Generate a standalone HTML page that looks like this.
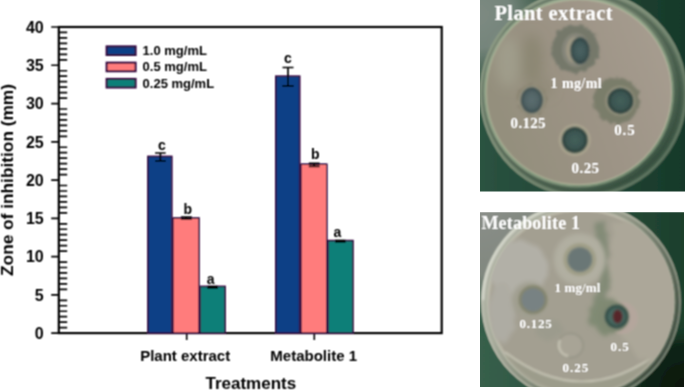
<!DOCTYPE html>
<html><head><meta charset="utf-8"><style>
html,body{margin:0;padding:0;background:#fff;width:685px;height:391px;overflow:hidden}
svg{position:absolute;left:0;top:0;display:block}
.t15{font:bold 15px "Liberation Sans",sans-serif;fill:#000}
.t16{font:bold 16px "Liberation Sans",sans-serif;fill:#000}
.t17{font:bold 17px "Liberation Sans",sans-serif;fill:#000}
.t13{font:bold 13px "Liberation Sans",sans-serif;fill:#000}
.w{font-family:"Liberation Serif",serif;font-weight:bold;fill:#fff}
</style></head><body>
<svg width="685" height="391" viewBox="0 0 685 391">
<defs><filter id="soft" x="-5%" y="-5%" width="110%" height="110%"><feConvolveMatrix order="3" kernelMatrix="1 2 1 2 4 2 1 2 1" divisor="16" edgeMode="none" preserveAlpha="false"/></filter></defs>
<g filter="url(#soft)">
<rect x="58.8" y="27.0" width="382.9" height="306.1" fill="none" stroke="#000" stroke-width="2.2"/>
<path d="M51.2 333.10H58.8M58.8 327.63H67.2M58.8 322.17H67.2M58.8 316.70H67.2M58.8 311.24H67.2M58.8 305.77H67.2M58.8 300.30H67.2M51.2 294.84H58.8M58.8 289.37H67.2M58.8 283.91H67.2M58.8 278.44H67.2M58.8 272.97H67.2M58.8 267.51H67.2M58.8 262.04H67.2M51.2 256.58H58.8M58.8 251.11H67.2M58.8 245.64H67.2M58.8 240.18H67.2M58.8 234.71H67.2M58.8 229.24H67.2M58.8 223.78H67.2M51.2 218.31H58.8M58.8 212.85H67.2M58.8 207.38H67.2M58.8 201.91H67.2M58.8 196.45H67.2M58.8 190.98H67.2M58.8 185.52H67.2M51.2 180.05H58.8M58.8 174.58H67.2M58.8 169.12H67.2M58.8 163.65H67.2M58.8 158.19H67.2M58.8 152.72H67.2M58.8 147.25H67.2M51.2 141.79H58.8M58.8 136.32H67.2M58.8 130.86H67.2M58.8 125.39H67.2M58.8 119.92H67.2M58.8 114.46H67.2M58.8 108.99H67.2M51.2 103.53H58.8M58.8 98.06H67.2M58.8 92.59H67.2M58.8 87.13H67.2M58.8 81.66H67.2M58.8 76.19H67.2M58.8 70.73H67.2M51.2 65.26H58.8M58.8 59.80H67.2M58.8 54.33H67.2M58.8 48.86H67.2M58.8 43.40H67.2M58.8 37.93H67.2M58.8 32.47H67.2M51.2 27.00H58.8" stroke="#000" stroke-width="1.7" fill="none"/>
<text x="43.7" y="339.00" text-anchor="end" class="t16">0</text>
<text x="43.7" y="300.74" text-anchor="end" class="t16">5</text>
<text x="43.7" y="262.48" text-anchor="end" class="t16">10</text>
<text x="43.7" y="224.21" text-anchor="end" class="t16">15</text>
<text x="43.7" y="185.95" text-anchor="end" class="t16">20</text>
<text x="43.7" y="147.69" text-anchor="end" class="t16">25</text>
<text x="43.7" y="109.43" text-anchor="end" class="t16">30</text>
<text x="43.7" y="71.16" text-anchor="end" class="t16">35</text>
<text x="43.7" y="32.90" text-anchor="end" class="t16">40</text>
<path d="M186.7 333H186.7V340M314.3 333V340" stroke="#000" stroke-width="1.6"/>
<text x="185.2" y="361.4" text-anchor="middle" class="t15">Plant extract</text>
<text x="313.7" y="361.4" text-anchor="middle" class="t15">Metabolite 1</text>
<text x="250.8" y="389" text-anchor="middle" class="t17">Treatments</text>
<text transform="translate(13.2 180.0) rotate(-90)" x="0" y="0" text-anchor="middle" class="t17" style="font-size:17.3px">Zone of inhibition (mm)</text>
<rect x="106.6" y="46.40" width="29" height="8.6" fill="#0b3f86" stroke="#320a3e" stroke-width="2"/>
<text x="142.6" y="55.30" class="t13">1.0 mg/mL</text>
<rect x="106.6" y="62.65" width="29" height="8.6" fill="#ff7b7b" stroke="#320a3e" stroke-width="2"/>
<text x="142.6" y="71.45" class="t13">0.5 mg/mL</text>
<rect x="106.6" y="78.90" width="29" height="8.6" fill="#0c7f78" stroke="#320a3e" stroke-width="2"/>
<text x="142.6" y="87.60" class="t13">0.25 mg/mL</text>
<rect x="147.9" y="156.4" width="23.9" height="176.7" fill="#0b3f86" stroke="#320a3e" stroke-width="1.6"/>
<rect x="173.0" y="218.0" width="26.0" height="115.1" fill="#ff7b7b" stroke="#320a3e" stroke-width="1.6"/>
<rect x="200.2" y="286.4" width="24.9" height="46.7" fill="#0c7f78" stroke="#320a3e" stroke-width="1.6"/>
<rect x="275.8" y="76.2" width="23.9" height="256.9" fill="#0b3f86" stroke="#320a3e" stroke-width="1.6"/>
<rect x="300.9" y="164.2" width="25.9" height="168.9" fill="#ff7b7b" stroke="#320a3e" stroke-width="1.6"/>
<rect x="328.0" y="240.6" width="25.0" height="92.5" fill="#0c7f78" stroke="#320a3e" stroke-width="1.6"/>
<path d="M155.1 153.0H165.7M155.1 161.0H165.7M160.4 153.0V161.0M180.9 217.0H191.9M180.9 219.0H191.9M186.4 217.0V219.0M207.3 286.5H217.9M207.3 287.9H217.9M212.6 286.5V287.9M282.5 67.5H293.5M282.5 85.8H293.5M288.0 67.5V85.8M308.8 163.4H319.6M308.8 166.4H319.6M314.2 163.4V166.4M335.0 240.6H345.6M335.0 241.8H345.6M340.3 240.6V241.8" stroke="#000" stroke-width="1.7" fill="none"/>
<text x="161.9" y="150.3" text-anchor="middle" class="t13" style="font-size:14px">c</text>
<text x="187.7" y="214.1" text-anchor="middle" class="t13" style="font-size:14px">b</text>
<text x="210.6" y="284.4" text-anchor="middle" class="t13" style="font-size:14px">a</text>
<text x="288" y="63.2" text-anchor="middle" class="t13" style="font-size:14px">c</text>
<text x="315.3" y="159.4" text-anchor="middle" class="t13" style="font-size:14px">b</text>
<text x="337.3" y="237.3" text-anchor="middle" class="t13" style="font-size:14px">a</text>
</g>
<defs>
<clipPath id="c1"><rect x="480" y="0" width="205" height="191.5"/></clipPath>
<filter id="b1" x="-50%" y="-50%" width="200%" height="200%"><feGaussianBlur stdDeviation="1"/></filter>
<filter id="b2" x="-50%" y="-50%" width="200%" height="200%"><feGaussianBlur stdDeviation="2"/></filter>
<filter id="b3" x="-50%" y="-50%" width="200%" height="200%"><feGaussianBlur stdDeviation="3"/></filter>
<filter id="rough" x="-30%" y="-30%" width="160%" height="160%"><feTurbulence type="fractalNoise" baseFrequency="0.18" numOctaves="2" seed="4"/><feDisplacementMap in="SourceGraphic" scale="7" xChannelSelector="R" yChannelSelector="G"/><feGaussianBlur stdDeviation="0.9"/></filter>
<radialGradient id="wA" cx="0.5" cy="0.5" r="0.5"><stop offset="0" stop-color="#4a6262"/><stop offset="0.7" stop-color="#3f5656"/><stop offset="1" stop-color="#25383a"/></radialGradient>
<radialGradient id="wB" cx="0.5" cy="0.5" r="0.5"><stop offset="0" stop-color="#5c6e70"/><stop offset="0.7" stop-color="#4f6163"/><stop offset="1" stop-color="#304244"/></radialGradient>
<radialGradient id="wC" cx="0.5" cy="0.5" r="0.5"><stop offset="0" stop-color="#44605a"/><stop offset="0.7" stop-color="#3a5450"/><stop offset="1" stop-color="#20332f"/></radialGradient>
<filter id="b6" x="-50%" y="-50%" width="200%" height="200%"><feGaussianBlur stdDeviation="6"/></filter>
<radialGradient id="bg1" cx="478" cy="15" r="95" gradientUnits="userSpaceOnUse"><stop offset="0" stop-color="#7d8a82"/><stop offset="0.35" stop-color="#75857b"/><stop offset="0.75" stop-color="#4a6352" stop-opacity="0.6"/><stop offset="1" stop-color="#2a5240" stop-opacity="0"/></radialGradient>
<linearGradient id="bgl1" x1="480" y1="0" x2="685" y2="0" gradientUnits="userSpaceOnUse"><stop offset="0" stop-color="#2a5240"/><stop offset="1" stop-color="#17392a"/></linearGradient>
<linearGradient id="rim1" x1="500" y1="10" x2="670" y2="185" gradientUnits="userSpaceOnUse"><stop offset="0" stop-color="#8a9684"/><stop offset="0.45" stop-color="#6b7c68"/><stop offset="1" stop-color="#2f4a3a"/></linearGradient>
<linearGradient id="ag1" x1="500" y1="120" x2="660" y2="60" gradientUnits="userSpaceOnUse"><stop offset="0" stop-color="#948f7d"/><stop offset="0.5" stop-color="#9c9385"/><stop offset="1" stop-color="#a59b8e"/></linearGradient>
</defs>
<g clip-path="url(#c1)"><g filter="url(#soft)">
<rect x="477" y="-3" width="211" height="198" fill="url(#bgl1)"/>
<rect x="477" y="-3" width="211" height="198" fill="url(#bg1)"/>
<circle cx="583.5" cy="93.6" r="104" fill="url(#rim1)"/>
<circle cx="583.4" cy="93.5" r="102.2" fill="none" stroke="#9fb094" stroke-width="2" opacity="0.55" filter="url(#b1)"/>
<circle cx="581.5" cy="92.9" r="98.2" fill="none" stroke="#2c4234" stroke-width="2" opacity="0.5" filter="url(#b1)"/>
<circle cx="578.9" cy="92.1" r="93.1" fill="url(#ag1)"/>
<circle cx="578.9" cy="92.1" r="93.6" fill="none" stroke="#b9cca8" stroke-width="1.8" opacity="0.85" filter="url(#b1)"/>
<g filter="url(#b6)">
<ellipse cx="508" cy="62" rx="12" ry="25" fill="#a4a290" opacity="0.7"/>
<ellipse cx="532" cy="60" rx="11" ry="26" fill="#88846f" opacity="0.75"/>
<ellipse cx="545" cy="88" rx="8" ry="8" fill="#8a8672" opacity="0.6"/>
</g>
<g filter="url(#rough)">
<ellipse cx="575.3" cy="48.7" rx="24" ry="24" fill="#75786a"/>
<ellipse cx="616.5" cy="100.4" rx="23.5" ry="23" fill="#7a7d6b"/>
<ellipse cx="531.8" cy="100.2" rx="15" ry="16" fill="#87826f"/>
</g>
<g filter="url(#b1)">
<ellipse cx="576" cy="50" rx="14" ry="17" fill="#86867a"/><ellipse cx="575" cy="50" rx="9" ry="13" fill="#a09a86"/>
<ellipse cx="531.8" cy="100.2" rx="13" ry="14.5" fill="#a29c88"/>
<ellipse cx="574.8" cy="140" rx="15.5" ry="15.5" fill="#b2ab94"/>
<ellipse cx="620.2" cy="100.9" rx="14.4" ry="14.4" fill="#aca48f"/>
</g>
<g filter="url(#b1)">
<ellipse cx="580" cy="50.7" rx="9.5" ry="13.3" fill="url(#wA)"/>
<ellipse cx="531.8" cy="100.2" rx="11" ry="13" fill="url(#wB)"/>
<ellipse cx="620.4" cy="100.9" rx="13" ry="13" fill="url(#wC)"/>
<ellipse cx="574.8" cy="140" rx="12.8" ry="13" fill="url(#wC)"/>
</g>
<text x="494.4" y="20" class="w" font-size="20.5" letter-spacing="0.4">Plant extract</text>
<text x="550.6" y="87.8" class="w" font-size="14" letter-spacing="0.4">1 mg/ml</text>
<text x="510.6" y="128" class="w" font-size="15" letter-spacing="0.3">0.125</text>
<text x="614.2" y="134.8" class="w" font-size="15" letter-spacing="0.9">0.5</text>
<text x="571.6" y="172.8" class="w" font-size="15" letter-spacing="0.4">0.25</text>
</g></g>

<defs>
<clipPath id="c2"><rect x="480" y="212.2" width="204" height="174.8"/></clipPath>
<clipPath id="ag2c"><circle cx="581.1" cy="302.1" r="93"/></clipPath>
<radialGradient id="bg2" cx="478" cy="212" r="125" gradientUnits="userSpaceOnUse"><stop offset="0" stop-color="#8a8e89"/><stop offset="0.5" stop-color="#81887f"/><stop offset="0.8" stop-color="#4f6a5a" stop-opacity="0.6"/><stop offset="1" stop-color="#214b38" stop-opacity="0"/></radialGradient>
<linearGradient id="rim2" x1="500" y1="240" x2="680" y2="340" gradientUnits="userSpaceOnUse"><stop offset="0" stop-color="#b0b3a5"/><stop offset="0.5" stop-color="#999d8c"/><stop offset="1" stop-color="#5d6a5a"/></linearGradient>
<linearGradient id="rimd2" x1="560" y1="260" x2="680" y2="360" gradientUnits="userSpaceOnUse"><stop offset="0" stop-color="#2c3e30" stop-opacity="0"/><stop offset="0.6" stop-color="#2c3e30" stop-opacity="0.6"/><stop offset="1" stop-color="#1c2a20" stop-opacity="0.9"/></linearGradient>
<radialGradient id="bgd2" cx="684" cy="387" r="70" gradientUnits="userSpaceOnUse"><stop offset="0" stop-color="#091609"/><stop offset="0.6" stop-color="#0c1e12" stop-opacity="0.8"/><stop offset="1" stop-color="#1a4230" stop-opacity="0"/></radialGradient>
<linearGradient id="bgl2" x1="480" y1="0" x2="684" y2="0" gradientUnits="userSpaceOnUse"><stop offset="0" stop-color="#375f4b"/><stop offset="1" stop-color="#1c3f2c"/></linearGradient>
<filter id="rough2" x="-30%" y="-30%" width="160%" height="160%"><feTurbulence type="fractalNoise" baseFrequency="0.12" numOctaves="2" seed="7"/><feDisplacementMap in="SourceGraphic" scale="8" xChannelSelector="R" yChannelSelector="G"/><feGaussianBlur stdDeviation="2.2"/></filter>
</defs>
<g clip-path="url(#c2)"><g filter="url(#soft)">
<rect x="477" y="209" width="210" height="181" fill="url(#bgl2)"/>
<rect x="477" y="209" width="210" height="181" fill="url(#bgd2)"/>
<rect x="477" y="209" width="210" height="181" fill="url(#bg2)"/>
<circle cx="581.1" cy="302.1" r="100" fill="url(#rim2)"/>
<circle cx="581.1" cy="302.1" r="98.6" fill="none" stroke="#dfe3d4" stroke-width="1.2" opacity="0.5" filter="url(#b1)"/>
<path d="M483 300 A98 98 0 0 1 560 206" stroke="#eef0e6" stroke-width="2" fill="none" opacity="0.75" filter="url(#b1)"/>
<circle cx="581.1" cy="302.1" r="96.3" fill="none" stroke="url(#rimd2)" stroke-width="2.2" filter="url(#b1)"/>
<circle cx="581.1" cy="302.1" r="93" fill="#a39f91"/>
<circle cx="581.1" cy="302.1" r="92.5" fill="none" stroke="#d6d4c4" stroke-width="1.6" opacity="0.8" filter="url(#b1)"/>
<g clip-path="url(#ag2c)">
<path d="M505 352 Q583 412 662 350 L662 392 L505 392 Z" fill="#979a88" opacity="0.55" filter="url(#b1)"/>
<path d="M505 352 Q583 412 662 350" stroke="#d9d8c8" stroke-width="1.6" fill="none" opacity="0.8" filter="url(#b1)"/>

<g filter="url(#rough2)">
<path d="M614 222 C608 240 615 255 608 270 C606 285 614 300 610 320 L640 360 L690 360 L690 222 Z" fill="#aca799"/>
<ellipse cx="518" cy="268" rx="30" ry="28" fill="#b2b0a7"/>
<ellipse cx="502" cy="312" rx="14" ry="30" fill="#aeaca3"/>
<path d="M598 224 C608 240 600 258 604 272 C606 288 598 300 596 312" stroke="#838b77" stroke-width="10" fill="none"/>
<ellipse cx="606" cy="316" rx="17" ry="18" fill="#808a73"/>
<ellipse cx="550" cy="330" rx="14" ry="10" fill="#9c9b8d"/>
</g>
<g filter="url(#b2)">
<circle cx="579.8" cy="259.5" r="26" fill="#b1afa1"/>
<circle cx="530" cy="300" r="18" fill="#a09f90"/>
</g>
</g>
<g filter="url(#b1)">
<circle cx="579.8" cy="259.5" r="16.5" fill="#a09f88"/>
<circle cx="533" cy="299.8" r="14.5" fill="#85866f"/>
<circle cx="622" cy="318" r="16" fill="#b4a69c"/><circle cx="614" cy="317" r="15" fill="#7f8872"/>
<ellipse cx="570.4" cy="345.5" rx="13.5" ry="13" fill="#959486"/>
<ellipse cx="570.4" cy="345.5" rx="11.8" ry="11.3" fill="#a8a496"/>
<path d="M560 340 A11 11 0 0 0 568 356" stroke="#d0cdbd" stroke-width="1.8" fill="none"/>
</g>
<g filter="url(#b1)">
<circle cx="579.8" cy="259.5" r="12.3" fill="#6a7776"/>
<circle cx="533" cy="299.8" r="11.6" fill="#788283"/>
<circle cx="616.6" cy="316.6" r="11.8" fill="#354f48"/><circle cx="616.6" cy="316.6" r="8.8" fill="#466860"/>
<ellipse cx="617.6" cy="316.6" rx="5" ry="7" fill="#57282b"/>
</g>
<text x="481.4" y="228.8" class="w" font-size="18" letter-spacing="0.2">Metabolite 1</text>
<text x="554.6" y="291.6" class="w" font-size="13" letter-spacing="0.1">1 mg/ml</text>
<text x="519.4" y="328.2" class="w" font-size="13" letter-spacing="0.8">0.125</text>
<text x="610.4" y="351.2" class="w" font-size="13" letter-spacing="1">0.5</text>
<text x="562.6" y="372" class="w" font-size="13" letter-spacing="1">0.25</text>
</g></g>

</svg>
</body></html>
